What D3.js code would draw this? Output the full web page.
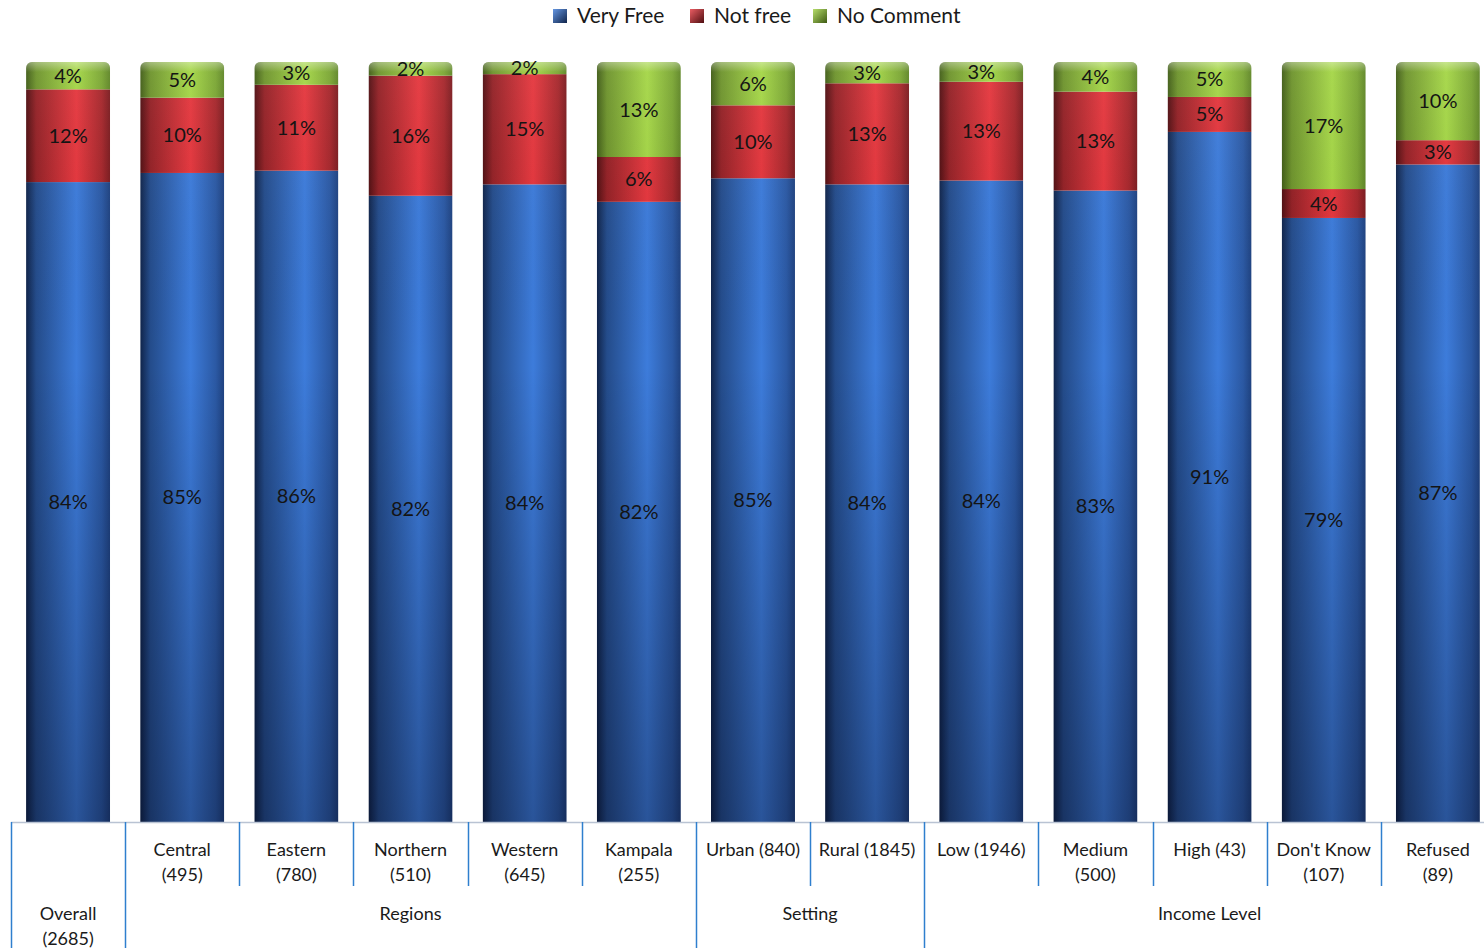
<!DOCTYPE html>
<html><head><meta charset="utf-8">
<script src="https://cdn.jsdelivr.net/npm/d3@7"></script>
<style>
html,body{margin:0;padding:0;background:#fff;}
svg{display:block;font-family:Lato,"Open Sans",sans-serif;}
</style></head>
<body><svg id="c" width="1484" height="948"></svg>
<script>
// ---- data ----
const categories = ["Overall (2685)","Central (495)","Eastern (780)","Northern (510)","Western (645)","Kampala (255)","Urban (840)","Rural (1845)","Low (1946)","Medium (500)","High (43)","Don't Know (107)","Refused (89)"];
const categoryLines = [["Overall","(2685)"],["Central","(495)"],["Eastern","(780)"],["Northern","(510)"],["Western","(645)"],["Kampala","(255)"],["Urban (840)"],["Rural (1845)"],["Low (1946)"],["Medium","(500)"],["High (43)"],["Don't Know","(107)"],["Refused","(89)"]];
const veryFree  = [84.2,85.4,85.7,82.4,83.9,81.6,84.7,83.9,84.4,83.0,90.8,79.4,86.6];
const notFree   = [12.2, 9.9,11.3,15.8,14.5, 5.9, 9.6,13.3,13.0,13.0, 4.6, 3.8, 3.2];
const noComment = [ 3.6, 4.7, 3.0, 1.8, 1.6,12.5, 5.7, 2.8, 2.6, 3.9, 4.6,16.7,10.3];
const seriesNames = ["Very Free","Not free","No Comment"];
const groupNames = ["Regions","Setting","Income Level"];
const groupStart = [1,6,8];
const groupEnd   = [6,8,13];

// ---- build ----
const svg = d3.select("#c");
const W = 1484, H = 948;
const rows = categories.map((c,i)=>({cat:c, i, "Very Free":veryFree[i], "Not free":notFree[i], "No Comment":noComment[i]}));
const stack = d3.stack().keys(seriesNames).offset(d3.stackOffsetExpand);
const layers = stack(rows);

const x0 = 11, step = 114.15;
const x = d3.scaleBand().domain(d3.range(categories.length)).range([x0, x0 + step*categories.length]).paddingInner(0.264).paddingOuter(0.132);
const y = d3.scaleLinear().domain([0,1]).range([822, 62]);

const cols = {
  "Very Free":  {d:"#10244a", l:"#3d7cdb", r:"#1f4280"},
  "Not free":   {d:"#4e0d10", l:"#e5353c", r:"#7a1a1e"},
  "No Comment": {d:"#3e5a14", l:"#a4d645", r:"#5d8424"}
};
const defs = svg.append("defs");
seriesNames.forEach((s,k)=>{
  const c = cols[s];
  const g = defs.append("linearGradient").attr("id","g"+k).attr("x1",0).attr("x2",1).attr("y1",0).attr("y2",0);
  g.append("stop").attr("offset",0).attr("stop-color",c.d);
  g.append("stop").attr("offset",0.12).attr("stop-color",d3.interpolateRgb(c.d,c.l)(0.45));
  g.append("stop").attr("offset",0.6).attr("stop-color",c.l);
  g.append("stop").attr("offset",0.9).attr("stop-color",d3.interpolateRgb(c.l,c.r)(0.6));
  g.append("stop").attr("offset",1).attr("stop-color",c.r);
  const lg = defs.append("linearGradient").attr("id","lg"+k).attr("x1",0).attr("x2",1).attr("y1",0).attr("y2",1);
  lg.append("stop").attr("offset",0).attr("stop-color",d3.interpolateRgb(c.l,"#fff")(0.2));
  lg.append("stop").attr("offset",1).attr("stop-color",c.d);
});
const vg = defs.append("linearGradient").attr("id","vshade").attr("gradientUnits","userSpaceOnUse")
  .attr("x1",0).attr("x2",0).attr("y1",62).attr("y2",822);
vg.append("stop").attr("offset",0).attr("stop-color","#ffffff").attr("stop-opacity",0.06);
vg.append("stop").attr("offset",0.4).attr("stop-color","#000010").attr("stop-opacity",0);
vg.append("stop").attr("offset",1).attr("stop-color","#000010").attr("stop-opacity",0.32);
const cap = defs.append("linearGradient").attr("id","cap").attr("x1",0).attr("x2",0).attr("y1",0).attr("y2",1);
cap.append("stop").attr("offset",0).attr("stop-color","#ffffff").attr("stop-opacity",0.35);
cap.append("stop").attr("offset",1).attr("stop-color","#ffffff").attr("stop-opacity",0);

categories.forEach((c,i)=>{
  defs.append("clipPath").attr("id","clip"+i).append("rect")
    .attr("x",x(i)).attr("y",y(1)).attr("width",x.bandwidth()).attr("height",y(0)-y(1)+12).attr("rx",6).attr("ry",6);
});

const bars = svg.append("g");
layers.forEach((layer,k)=>{
  bars.append("g").selectAll("rect").data(layer).join("rect")
    .attr("clip-path",(d,i)=>`url(#clip${i})`)
    .attr("x",(d,i)=>x(i)).attr("width",x.bandwidth())
    .attr("y",d=>y(d[1])).attr("height",d=>y(d[0])-y(d[1]))
    .attr("fill",`url(#g${k})`);
});
bars.append("g").selectAll("rect").data(categories).join("rect")
  .attr("clip-path",(d,i)=>`url(#clip${i})`)
  .attr("x",(d,i)=>x(i)).attr("width",x.bandwidth())
  .attr("y",y(1)).attr("height",y(0)-y(1)).attr("fill","url(#vshade)");
bars.append("g").selectAll("rect").data(categories).join("rect")
  .attr("clip-path",(d,i)=>`url(#clip${i})`)
  .attr("x",(d,i)=>x(i)).attr("width",x.bandwidth())
  .attr("y",y(1)).attr("height",10).attr("fill","url(#cap)");

// value labels
const vals = [veryFree, notFree, noComment];
layers.forEach((layer,k)=>{
  svg.append("g").selectAll("text").data(layer).join("text")
    .attr("x",(d,i)=>x(i)+x.bandwidth()/2)
    .attr("y",d=>(y(d[0])+y(d[1]))/2)
    .attr("dy","0.35em").attr("text-anchor","middle")
    .attr("font-size",20).attr("fill","#141414")
    .text((d,i)=>Math.round(vals[k][i])+"%");
});

// axis
const ax = svg.append("g");
ax.append("line").attr("x1",x0).attr("x2",W).attr("y1",822.5).attr("y2",822.5).attr("stroke","#b9c3d3").attr("stroke-width",1.5);
const fullDiv = new Set([0,1,6,8,13]);
d3.range(categories.length+1).forEach(i=>{
  const xx = Math.round(x0 + i*step)+0.5;
  ax.append("line").attr("x1",xx).attr("x2",xx).attr("y1",822).attr("y2",fullDiv.has(i)?H:886)
    .attr("stroke","#2f7fce").attr("stroke-width",1.5);
});
categoryLines.forEach((lines,i)=>{
  const cx = x(i)+x.bandwidth()/2;
  const baseY = i===0 ? 914 : 850;
  const t = ax.append("text").attr("text-anchor","middle").attr("font-size",18).attr("fill","#1a1a1a");
  lines.forEach((ln,j)=>t.append("tspan").attr("x",cx).attr("y",baseY + j*25).attr("dy","0.35em").text(ln));
});
groupNames.forEach((g,k)=>{
  const cx = x0 + (groupStart[k]+groupEnd[k])/2*step;
  ax.append("text").attr("x",cx).attr("y",914).attr("dy","0.35em").attr("text-anchor","middle")
    .attr("font-size",18).attr("fill","#1a1a1a").text(g);
});

// legend
const legX = [553, 690, 813];
const leg = svg.append("g");
seriesNames.forEach((s,k)=>{
  leg.append("rect").attr("x",legX[k]).attr("y",9).attr("width",14).attr("height",14).attr("fill",`url(#lg${k})`);
  leg.append("text").attr("x",legX[k]+24).attr("y",16).attr("dy","0.35em").attr("font-size",21).attr("fill","#1a1a1a").text(s);
});
</script></body></html>
